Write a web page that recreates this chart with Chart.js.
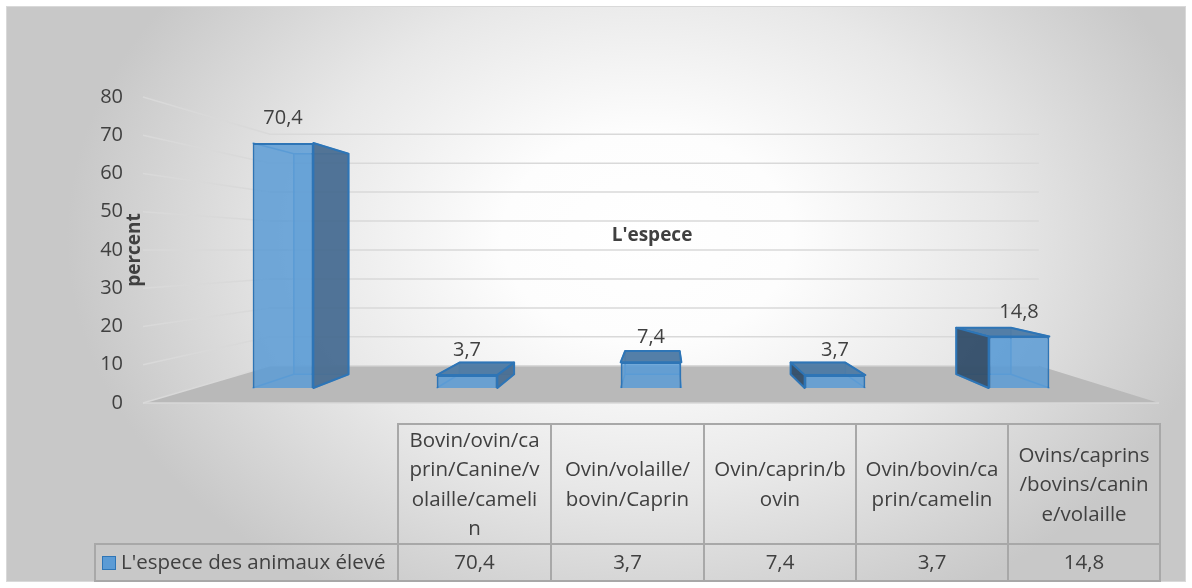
<!DOCTYPE html>
<html>
<head>
<meta charset="utf-8">
<script src="https://cdn.jsdelivr.net/npm/chart.js@4/dist/chart.umd.min.js"></script>
<style>
  body { margin: 0; background: #fff; }
  #wrap { position: relative; width: 1192px; height: 588px; overflow: hidden; }
  #frame {
    position: absolute; left: 6px; top: 6px; width: 1178px; height: 574px;
    border: 1px solid #d9d9d9;
    background: radial-gradient(ellipse 580px 420px at 640px 230px, #ffffff 0%, #fdfdfd 25%, #e8e8e8 60%, #c8c8c8 100%);
  }
  #box { position: absolute; left: 0; top: 0; width: 1192px; height: 588px; }
  #tbl {
    position: absolute; left: 94px; top: 423px; width: 1065px;
    border-collapse: collapse; table-layout: fixed;
    font-family: "Open Sans"; font-size: 20.5px; color: #404040;
  }
  #tbl td { border: 2px solid #a8a8a8; text-align: center; padding: 0; line-height: 29.4px; }
  #tbl tr.head td { height: 116px; }
  #tbl tr.vals td { height: 35px; }
  #tbl td.corner { border-top: none; border-left: none; }
  #tbl td.name { text-align: left; padding-left: 6px; white-space: nowrap; }
  .key { display: inline-block; width: 12px; height: 12px; background: #5b9bd5; border: 1.5px solid #2e75b6; margin-right: 5px; vertical-align: -1px; }
</style>
</head>
<body>
<div id="wrap">
  <div id="frame"></div>
  <div id="box"><canvas id="myChart"></canvas></div>
  <table id="tbl"></table>
</div>
<script>
// categories (as wrapped in the data table) and values
const categories = [
  ["Bovin/ovin/ca", "prin/Canine/v", "olaille/cameli", "n"],
  ["Ovin/volaille/", "bovin/Caprin"],
  ["Ovin/caprin/b", "ovin"],
  ["Ovin/bovin/ca", "prin/camelin"],
  ["Ovins/caprins", "/bovins/canin", "e/volaille"]
];
const values = [70.4, 3.7, 7.4, 3.7, 14.8];
const seriesName = "L'espece des animaux élevé";
const chartTitle = "L'espece";
const axisTitle = "percent";
const yMin = 0, yMax = 80, yStep = 10;

const fmt = (v) => String(v).replace(".", ",");
const FONT = "Open Sans";
const TEXT = "#404040";

// perspective helpers
function vanish(ca) {
  return { x: ca.left + (ca.right - ca.left) * 0.515, y: ca.top + (ca.bottom - ca.top) * 0.5 };
}
function toward(vp, x, y, k) {
  return [vp.x + (x - vp.x) * k, vp.y + (y - vp.y) * k];
}

const scene3d = {
  id: "scene3d",
  beforeDatasetsDraw(chart) {
    const { ctx, chartArea: ca } = chart;
    const ys = chart.scales.y;
    const vp = vanish(ca);
    const kWall = 0.757;
    const xL = ca.left - 48;
    const xR = ca.right + 48;

    ctx.save();
    // floor
    const y0 = ys.getPixelForValue(0);
    const bl = toward(vp, xL, y0, kWall);
    const br = toward(vp, xR, y0, kWall);
    ctx.fillStyle = "#b9b9b9";
    ctx.beginPath();
    ctx.moveTo(xL, y0);
    ctx.lineTo(bl[0], bl[1]);
    ctx.lineTo(br[0], br[1]);
    ctx.lineTo(xR, y0);
    ctx.closePath();
    ctx.fill();

    // wall gridlines
    ctx.strokeStyle = "#d9d9d9";
    ctx.lineWidth = 1.5;
    ys.ticks.forEach((t) => {
      const yf = ys.getPixelForValue(t.value);
      const a = toward(vp, xL, yf, kWall);
      const b = toward(vp, xR, yf, kWall);
      ctx.beginPath();
      ctx.moveTo(xL, yf);
      ctx.lineTo(a[0], a[1]);
      ctx.lineTo(b[0], a[1]);
      ctx.stroke();
    });
    ctx.beginPath();
    ctx.moveTo(xL, y0);
    ctx.lineTo(xR, y0);
    ctx.stroke();

    // 3d parts of the bars (behind the front face)
    const kBar = 0.9;
    const meta = chart.getDatasetMeta(0);
    meta.data.forEach((bar) => {
      const { x, y, base, width } = bar.getProps(["x", "y", "base", "width"], true);
      const x0 = x - width / 2, x1 = x + width / 2;
      const p = {
        tl: toward(vp, x0, y, kBar), tr: toward(vp, x1, y, kBar),
        bl: toward(vp, x0, base, kBar), brr: toward(vp, x1, base, kBar)
      };
      // back face
      ctx.fillStyle = "rgba(91,155,213,0.35)";
      ctx.strokeStyle = "#5b9bd5";
      ctx.lineWidth = 1.5;
      ctx.beginPath();
      ctx.moveTo(p.tl[0], p.tl[1]);
      ctx.lineTo(p.tr[0], p.tr[1]);
      ctx.lineTo(p.brr[0], p.brr[1]);
      ctx.lineTo(p.bl[0], p.bl[1]);
      ctx.closePath();
      ctx.fill();
      ctx.stroke();
      // hidden edges joining front and back
      ctx.beginPath();
      ctx.moveTo(x0, y); ctx.lineTo(p.tl[0], p.tl[1]);
      ctx.moveTo(x1, y); ctx.lineTo(p.tr[0], p.tr[1]);
      ctx.moveTo(x0, base); ctx.lineTo(p.bl[0], p.bl[1]);
      ctx.moveTo(x1, base); ctx.lineTo(p.brr[0], p.brr[1]);
      ctx.stroke();

      ctx.strokeStyle = "#2e75b6";
      ctx.lineWidth = 2;
      ctx.lineJoin = "round";
      // top face
      if (y > vp.y) {
        ctx.fillStyle = "rgba(78,122,163,0.95)";
        ctx.beginPath();
        ctx.moveTo(x0, y);
        ctx.lineTo(x1, y);
        ctx.lineTo(p.tr[0], p.tr[1]);
        ctx.lineTo(p.tl[0], p.tl[1]);
        ctx.closePath();
        ctx.fill();
        ctx.stroke();
      }
      // side face
      if (x1 < vp.x - 2) {
        ctx.fillStyle = "rgba(74,110,145,0.95)";
        ctx.beginPath();
        ctx.moveTo(x1, y);
        ctx.lineTo(p.tr[0], p.tr[1]);
        ctx.lineTo(p.brr[0], p.brr[1]);
        ctx.lineTo(x1, base);
        ctx.closePath();
        ctx.fill();
        ctx.stroke();
      } else if (x0 > vp.x + 2) {
        ctx.fillStyle = "rgba(52,78,104,0.95)";
        ctx.beginPath();
        ctx.moveTo(x0, y);
        ctx.lineTo(p.tl[0], p.tl[1]);
        ctx.lineTo(p.bl[0], p.bl[1]);
        ctx.lineTo(x0, base);
        ctx.closePath();
        ctx.fill();
        ctx.stroke();
      }
    });
    ctx.restore();
  },
  afterDatasetsDraw(chart) {
    const { ctx, chartArea: ca } = chart;
    ctx.save();
    ctx.fillStyle = TEXT;
    ctx.textAlign = "center";
    ctx.textBaseline = "middle";
    ctx.font = "20px '" + FONT + "'";
    chart.getDatasetMeta(0).data.forEach((bar, i) => {
      ctx.fillText(fmt(values[i]), bar.x, bar.y - 24.5);
    });
    // chart title sits inside the plot in the original
    ctx.font = "bold 19px '" + FONT + "'";
    ctx.fillText(chartTitle, (ca.left + ca.right) / 2 + 1, ca.top + 139);
    ctx.restore();
  }
};

const cfg = {
  type: "bar",
  data: {
    labels: categories,
    datasets: [
      {
        label: seriesName,
        data: values,
        yAxisID: "y2",
        backgroundColor: "rgba(91,155,213,0.85)",
        borderColor: "#2e75b6",
        borderWidth: 2,
        barPercentage: 0.33,
        categoryPercentage: 1
      }
    ]
  },
  options: {
    responsive: true,
    maintainAspectRatio: false,
    animation: false,
    layout: { padding: { left: 92, top: 97, right: 81, bottom: 185 } },
    plugins: {
      legend: { display: false },
      tooltip: { enabled: false }
    },
    scales: {
      x: { display: false },
      y: {
        min: yMin,
        max: yMax,
        ticks: { stepSize: yStep, padding: 68, color: TEXT, font: { family: FONT, size: 20 } },
        grid: { display: false, drawTicks: false },
        border: { display: false },
        title: {
          display: true,
          text: axisTitle,
          color: TEXT,
          padding: { top: 31, bottom: 0 },
          font: { family: FONT, size: 19, weight: "bold", lineHeight: 1.2 }
        },
        afterFit: (s) => { s.width = 99; }
      },
      // front plane of the bars (sits in front of the back wall)
      y2: { display: false, min: -4.31, max: 83.62 }
    }
  },
  plugins: [scene3d]
};

new Chart(document.getElementById("myChart"), cfg);

// data table under the plot
function buildTable() {
  const tbl = document.getElementById("tbl");
  const widths = [303, 153, 153, 152, 152, 152];
  let html = "<colgroup>" + widths.map((w) => '<col style="width:' + w + 'px">').join("") + "</colgroup>";
  html += '<tr class="head"><td class="corner"></td>';
  categories.forEach((c) => { html += "<td>" + c.join("<br>") + "</td>"; });
  html += '</tr><tr class="vals"><td class="name"><span class="key"></span>' + seriesName + "</td>";
  values.forEach((v) => { html += "<td>" + fmt(v) + "</td>"; });
  html += "</tr>";
  tbl.innerHTML = html;
}
buildTable();
</script>
</body>
</html>
